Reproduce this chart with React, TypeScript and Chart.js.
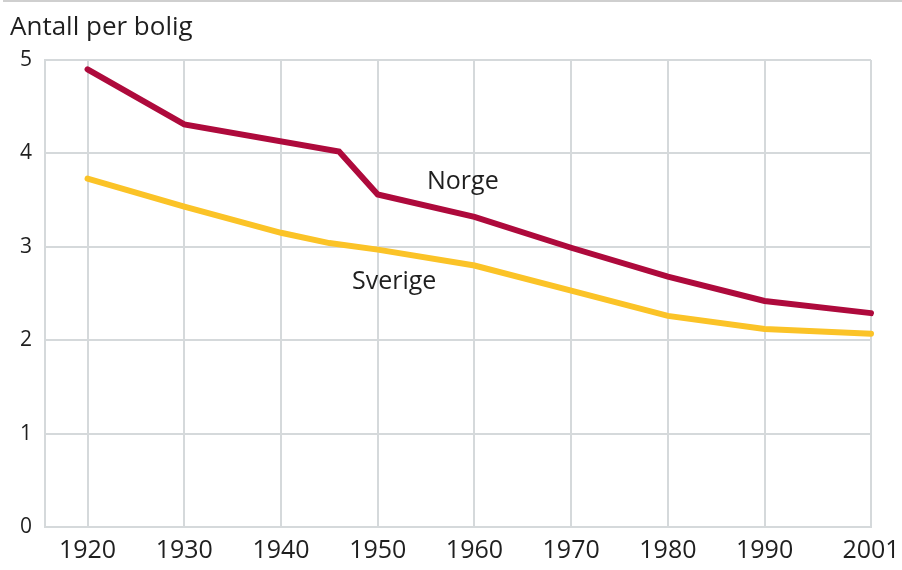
import React, { useEffect, useRef } from "react";
import { Chart, registerables } from "chart.js";

Chart.register(...registerables);

// ---- Data ----
const titleText = "Antall per bolig";
const xTickYears = [1920, 1930, 1940, 1950, 1960, 1970, 1980, 1990, 2001];
const yTickValues = [0, 1, 2, 3, 4, 5];

const norgeName = "Norge";
const norgeYears = [1920, 1930, 1946, 1950, 1960, 1970, 1980, 1990, 2001];
const norgeValues = [4.9, 4.31, 4.02, 3.56, 3.32, 2.99, 2.68, 2.42, 2.29];

const sverigeName = "Sverige";
const sverigeYears = [1920, 1930, 1940, 1945, 1950, 1960, 1970, 1980, 1990, 2001];
const sverigeValues = [3.73, 3.43, 3.15, 3.04, 2.97, 2.8, 2.53, 2.26, 2.12, 2.07];

// label anchor positions in data units
const norgeLabelAt = { x: 1958.8, y: 3.7 };
const sverigeLabelAt = { x: 1951.7, y: 2.62 };

const FONT = "'Open Sans', 'DejaVu Sans', sans-serif";
const TEXT = "#1f1f1f";
const GRID = "#d5d9db";
const RED = "#ae0a3c";
const YELLOW = "#fbc327";

const toPoints = (xs: number[], ys: number[]) => xs.map((x, i) => ({ x, y: ys[i] }));

const decorPlugin = {
  id: "decor",
  afterDraw(chart: any) {
    const ctx = chart.ctx;
    const xs = chart.scales.x;
    const ys = chart.scales.y;
    ctx.save();
    // top rule
    ctx.strokeStyle = "#cfcfcf";
    ctx.lineWidth = 2;
    ctx.beginPath();
    ctx.moveTo(3, 1);
    ctx.lineTo(chart.width, 1);
    ctx.stroke();
    // title
    ctx.fillStyle = TEXT;
    ctx.font = `26px ${FONT}`;
    ctx.textAlign = "left";
    ctx.textBaseline = "alphabetic";
    ctx.fillText(titleText, 10, 35);
    // series labels
    ctx.font = `25px ${FONT}`;
    ctx.textAlign = "center";
    ctx.textBaseline = "middle";
    ctx.fillText(norgeName, xs.getPixelForValue(norgeLabelAt.x), ys.getPixelForValue(norgeLabelAt.y));
    ctx.fillText(sverigeName, xs.getPixelForValue(sverigeLabelAt.x), ys.getPixelForValue(sverigeLabelAt.y));
    ctx.restore();
  },
};

export default function App() {
  const ref = useRef<HTMLCanvasElement>(null);

  useEffect(() => {
    if (!ref.current) return;
    const chart = new Chart(ref.current, {
      type: "line",
      data: {
        datasets: [
          {
            label: norgeName,
            data: toPoints(norgeYears, norgeValues),
            borderColor: RED,
            borderWidth: 6,
            pointRadius: 0,
            tension: 0,
            borderCapStyle: "round",
            borderJoinStyle: "miter",
            clip: false as any,
          },
          {
            label: sverigeName,
            data: toPoints(sverigeYears, sverigeValues),
            borderColor: YELLOW,
            borderWidth: 6,
            pointRadius: 0,
            tension: 0,
            borderCapStyle: "round",
            borderJoinStyle: "miter",
            clip: false as any,
          },
        ],
      },
      options: {
        animation: false,
        responsive: false,
        maintainAspectRatio: false,
        layout: { padding: { top: 60, right: 31, left: 0, bottom: 0 } },
        plugins: {
          legend: { display: false },
          tooltip: { enabled: false },
          title: { display: false },
        },
        scales: {
          x: {
            type: "linear",
            min: 1915.6,
            max: 2001,
            afterBuildTicks: (scale: any) => {
              scale.ticks = xTickYears.map((v) => ({ value: v }));
            },
            afterFit: (scale: any) => {
              scale.height = 43;
              scale.paddingLeft = 0;
              scale.paddingRight = 0;
            },
            grid: { color: GRID, lineWidth: 2, drawTicks: false },
            border: { display: true, color: GRID, width: 2 },
            ticks: {
              color: TEXT,
              font: { family: FONT, size: 25 },
              padding: 9,
              maxRotation: 0,
              autoSkip: false,
              callback: (v: any) => String(v),
            },
          },
          y: {
            type: "linear",
            min: 0,
            max: 5,
            afterBuildTicks: (scale: any) => {
              scale.ticks = yTickValues.map((v) => ({ value: v }));
            },
            afterFit: (scale: any) => {
              scale.width = 45;
              scale.paddingTop = 0;
              scale.paddingBottom = 0;
            },
            grid: { color: GRID, lineWidth: 2, drawTicks: false },
            border: { display: true, color: GRID, width: 2 },
            ticks: {
              color: TEXT,
              font: { family: FONT, size: 21 },
              padding: 13,
              callback: (v: any) => String(v),
            },
          },
        },
      },
      plugins: [decorPlugin],
    });
    return () => chart.destroy();
  }, []);

  return (
    <div style={{ position: "absolute", left: 0, top: 0, width: 902, height: 570, background: "#fff" }}>
      <canvas ref={ref} width={902} height={570} style={{ display: "block" }} />
    </div>
  );
}
